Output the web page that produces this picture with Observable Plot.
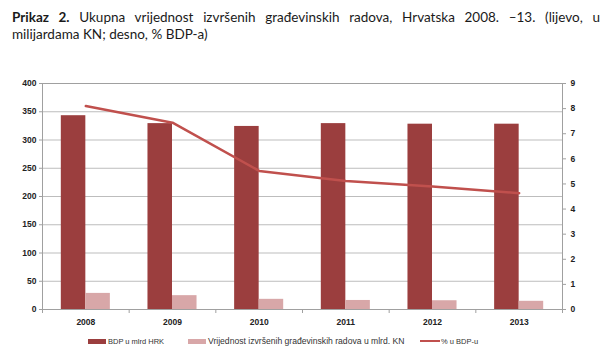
<!DOCTYPE html>
<html><head><meta charset="utf-8">
<script src="https://cdn.jsdelivr.net/npm/d3@7"></script>
<script src="https://cdn.jsdelivr.net/npm/@observablehq/plot@0.6"></script>
<style>
body{margin:0;width:610px;height:357px;position:relative;background:#fff;overflow:hidden}
#title{position:absolute;left:12px;top:9px;width:588px;font-family:Lato,sans-serif;font-size:13.5px;line-height:17px;color:#1a1a1a}
#l1{text-align:justify;text-align-last:justify}
#chart{position:absolute;left:0;top:60px}
#chart text{font-weight:bold}
#legend{position:absolute;top:334px;left:0;width:610px;height:14px;font-family:"Liberation Sans",Arial,sans-serif;color:#333}
.item{position:absolute;top:0;display:flex;align-items:center;height:14px;white-space:nowrap}
.sw{display:inline-block;width:18px;height:5px;margin-right:2px}
</style></head><body>
<div id="title"><div id="l1"><b>Prikaz 2.</b> Ukupna vrijednost izvršenih građevinskih radova, Hrvatska 2008. –13. (lijevo, u</div><div>milijardama KN; desno, % BDP-a)</div></div>
<div id="chart"></div>
<div id="legend">
  <div class="item" style="left:88px;font-size:7.5px"><span class="sw" style="background:#9b3e3e"></span>BDP u mlrd HRK</div>
  <div class="item" style="left:188px;font-size:8.6px"><span class="sw" style="background:#d8a7a8"></span>Vrijednost izvršenih građevinskih radova u mlrd. KN</div>
  <div class="item" style="left:420px;font-size:7.5px"><span class="sw" style="background:#c0504d;height:2.5px;width:20px;margin-right:1px"></span>% u BDP-u</div>
</div>
<script>
const years = ["2008", "2009", "2010", "2011", "2012", "2013"];
const bdp = [343, 329, 324, 329, 328, 328];
const radovi = [28.5, 24.5, 18, 16, 15.5, 14.5];
const pctBdp = [8.1, 7.44, 5.52, 5.12, 4.9, 4.63];
const leftTicks = [0, 50, 100, 150, 200, 250, 300, 350, 400];
const rightTicks = [0, 1, 2, 3, 4, 5, 6, 7, 8, 9];

const idx = years.map((_, i) => i);
const k = 400 / 9;
const w = 0.283;
const grid = "#bdbdbd", axisCol = "#a0a0a0";

const chart = Plot.plot({
  width: 610, height: 272,
  marginTop: 23, marginBottom: 23, marginLeft: 42, marginRight: 48,
  style: {fontFamily: "'Liberation Sans', Arial, sans-serif", fontSize: "8.5px", color: "#222", background: "#fff"},
  x: {type: "linear", domain: [-0.5, 5.5], label: null},
  y: {domain: [0, 400], label: null},
  marks: [
    Plot.gridY(leftTicks.slice(1, -1), {stroke: grid, strokeOpacity: 1}),
    Plot.rect(idx, {x1: i => i - w, x2: i => i, y1: 0, y2: i => bdp[i], fill: "#9b3e3e"}),
    Plot.rect(idx, {x1: i => i, x2: i => i + w, y1: 0, y2: i => radovi[i], fill: "#d8a7a8"}),
    Plot.frame({stroke: axisCol}),
    Plot.line(idx, {x: i => i, y: i => pctBdp[i] * k, stroke: "#c0504d", strokeWidth: 2.5}),
    Plot.axisY(leftTicks, {anchor: "left", tickSize: 3, tickPadding: 3, stroke: axisCol}),
    Plot.axisY(rightTicks.map(r => r * k), {anchor: "right", tickSize: 3, tickPadding: 5, stroke: axisCol, tickFormat: d => String(Math.round(d / k))}),
    Plot.axisX(idx, {anchor: "bottom", tickSize: 0, tickPadding: 9, tickFormat: i => years[i]}),
    Plot.axisX(d3.range(-0.5, 6, 1), {anchor: "bottom", tickSize: 4, stroke: axisCol, tickFormat: () => ""})
  ]
});
document.getElementById("chart").appendChild(chart);
</script>
</body></html>
